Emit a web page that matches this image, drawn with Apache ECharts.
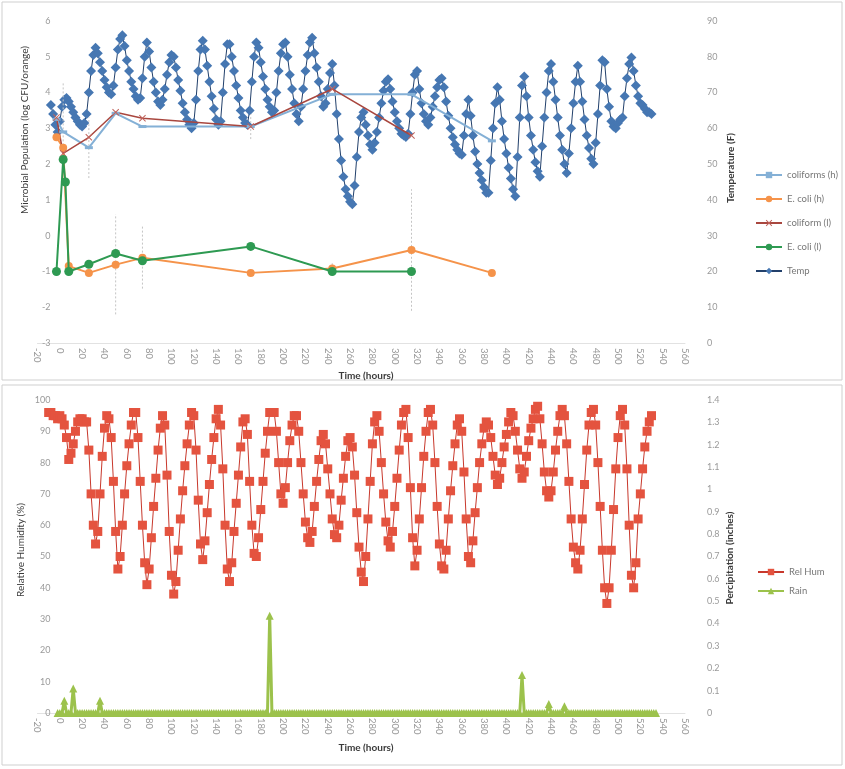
<!DOCTYPE html>
<html>
<head>
<meta charset="utf-8">
<script src="https://cdn.jsdelivr.net/npm/echarts@6/dist/echarts.min.js"></script>
<style>
  html, body { margin: 0; padding: 0; background: #ffffff; }
  #chart { width: 845px; height: 769px; }
</style>
</head>
<body>
<div id="chart"></div>
<script>
// ---- Microbial sampling (left axis, log CFU/orange) ----
const coliformsHHours  = [-3, 3, 26, 50, 74, 171, 244, 315, 387];
const coliformsHValues = [3.25, 2.9, 2.46, 3.42, 3.05, 3.05, 3.95, 3.95, 2.65];

const ecoliHHours  = [-3, 3, 8, 26, 50, 74, 171, 244, 315, 387];
const ecoliHValues = [2.75, 2.46, -0.85, -1.04, -0.81, -0.62, -1.04, -0.92, -0.4, -1.04];

const coliformLHours  = [-3, 3, 26, 50, 74, 171, 244, 315];
const coliformLValues = [3.3, 2.3, 2.75, 3.45, 3.28, 3.05, 4.1, 2.8];

const ecoliLHours  = [-3, 3, 5, 8, 26, 50, 74, 171, 244, 315];
const ecoliLValues = [-1, 2.13, 1.5, -1, -0.8, -0.5, -0.7, -0.3, -1, -1];

// error bars: sample time, centre, half-width
const errHours  = [3, 26, 50, 74, 171, 244, 315];
const errCenter = [3.3, 2.46, -0.8, -0.6, 3.05, -0.9, -0.4];
const errHalf   = [1.0, 0.85, 1.4, 0.88, 0.35, 0.15, 1.7];

// ---- Temperature (right axis, F), readings every 2 h from hour -8 ----
const tempStartHour = -8;
const tempStepHours = 2;
const tempValues = [
  66.5, 64, 61, 59, 62, 66, 68, 68.5, 67.5, 66, 64.5, 63,
  62, 61, 60.5, 61.5, 64, 70, 76, 80.5, 82.5, 81, 78.5, 76,
  73.5, 71.5, 70, 69.5, 72, 77, 82, 85, 86, 83, 79, 76,
  73, 71, 69, 68, 68.5, 74, 80, 84, 81.5, 77, 73, 70,
  67.5, 66.5, 68, 71, 75, 78.5, 80.5, 80, 77, 73.5, 70.5, 67,
  64.5, 62.5, 61, 60, 61.5, 68, 76, 82, 84.5, 82, 77.5, 73,
  69, 65.5, 62.5, 61, 62, 70, 78, 83.5, 83.5, 80, 76, 72,
  68.5, 65, 63, 61.5, 61, 65, 73, 80, 84, 82.5, 78.5, 74.5,
  71, 68, 66, 64.5, 65, 70, 76, 81, 83.5, 84, 80, 75,
  71, 67, 64, 62, 66, 71, 76, 80.5, 84, 85.3, 81, 77,
  73, 69, 66, 67, 71, 75.5, 78, 72, 64, 57, 51, 46.5,
  43, 41, 39.5, 38.8, 44, 52, 59, 63, 64.5, 61, 58, 55.5,
  54, 56, 59, 63, 67, 70.5, 73, 73.7, 71, 67.5, 64.5, 62,
  60, 58.5, 58, 57.6, 58.5, 64, 70, 75, 76, 71, 67, 64,
  62, 61, 63, 66, 69, 71.5, 73.5, 74, 71.5, 67.5, 63.5, 60,
  57.5, 55.5, 54, 53, 52.6, 58, 64, 68, 63.5, 58, 53.5, 50,
  47.5, 45.5, 43.5, 42, 42, 51, 60, 67, 71.5, 68, 62, 57,
  53, 49, 46, 43, 41, 52, 63, 72, 74.5, 69, 63, 58,
  54, 50.5, 48, 46.5, 55, 63, 70, 76, 78, 73, 68, 63,
  58, 54, 50, 47.5, 53, 60, 67, 73, 77.5, 73, 67.5, 62.5,
  58, 54.5, 51.5, 50, 56, 64, 72, 79, 78.5, 71, 66, 62,
  60.5, 60, 61.5, 62.5, 63, 69, 74, 78, 79.8, 76, 72, 69,
  67, 66.5, 65.5, 64.5, 64.5, 64
];

// ---- Relative humidity (%), readings every 2 h from hour -10 ----
const rhStartHour = -10;
const rhStepHours = 2;
const rhValues = [
  96, 96, 95, 95, 94, 95, 94, 92, 88, 81, 83, 86,
  90, 93, 94, 94, 93, 93, 84, 70, 60, 54, 58, 70,
  82, 91, 95, 94, 88, 74, 58, 46, 50, 60, 70, 79,
  86, 92, 96, 96, 88, 74, 60, 48, 41, 46, 56, 66,
  75, 84, 91, 95, 92, 76, 58, 44, 38, 42, 52, 62,
  71, 79, 86, 92, 96, 95, 84, 68, 54, 49, 55, 64,
  73, 81, 88, 94, 97, 92, 78, 60, 46, 42, 48, 58,
  67, 76, 85, 93, 94, 89, 74, 60, 51, 50, 56, 65,
  74, 83, 90, 96, 96, 96, 90, 80, 70, 67, 72, 80,
  87, 92, 95, 95, 90, 80, 70, 61, 56, 54.5, 58, 66,
  74, 81, 87, 89, 86, 78, 70, 62, 57, 56, 60, 68,
  75, 82, 87, 88, 85, 76, 64, 53, 45, 42, 50, 62,
  74, 86, 93, 95, 90, 80, 70, 61, 55, 53, 58, 66,
  75, 84, 92, 96, 97, 88, 72, 56, 47, 52, 62, 72,
  82, 90, 96, 97, 92, 80, 66, 54, 47, 46, 52, 62,
  71, 79, 86, 92, 94, 90, 77, 62, 50, 48, 55, 64,
  72, 80, 86, 91, 93, 92, 88, 82, 76, 73, 75, 80,
  85, 89, 93, 96, 95, 90, 84, 78, 75, 77, 82, 87,
  91, 94, 97, 98, 94, 86, 77, 71, 69, 71, 77, 84,
  90, 95, 97, 95, 86, 74, 62, 53, 48, 46, 52, 62,
  73, 84, 92, 96, 97, 92, 80, 66, 52, 40, 35, 40,
  52, 65, 78, 88, 95, 97, 92, 78, 60, 44, 40, 48,
  62, 70, 78, 85, 90, 93, 95
];

// ---- Rain (inches): 2-hourly gauge readings, dry except these events ----
const rainStartHour = -2;
const rainEndHour = 534;
const rainStepHours = 2;
const rainEventHours  = [4, 12, 36, 188, 414, 438, 452];
const rainEventValues = [0.055, 0.11, 0.055, 0.435, 0.17, 0.04, 0.03];

// ---- Axis ticks ----
const timeMin = -20, timeMax = 560, timeStep = 20;
const microMin = -3, microMax = 6, microStep = 1;
const tempMin = 0, tempMax = 90, tempStep = 10;
const rhMin = 0, rhMax = 100, rhStep = 10;
const rainMin = 0, rainMax = 1.4, rainStep = 0.1;

// ---- build series data ----
const pairs = (xs, ys) => xs.map((x, i) => [x, ys[i]]);
const tempData = tempValues.map((v, i) => [tempStartHour + i * tempStepHours, v]);
const rhData = rhValues.map((v, i) => [rhStartHour + i * rhStepHours, v]);
const rainData = [];
for (let h = rainStartHour; h <= rainEndHour; h += rainStepHours) {
  const k = rainEventHours.indexOf(h);
  rainData.push([h, k >= 0 ? rainEventValues[k] : 0]);
}
const errData = errHours.map((h, i) => [h, errCenter[i] - errHalf[i], errCenter[i] + errHalf[i]]);

const FONT = 'Lato, "Liberation Sans", sans-serif';
const LABEL_GREY = '#9a9a9a';
const X_SYMBOL = 'path://M0,1L1,0L5,4L9,0L10,1L6,5L10,9L9,10L5,6L1,10L0,9L4,5Z';

const GRID_LEFT = 37.5, GRID_WIDTH = 647.5;

function timeAxis(gridIndex) {
  return {
    type: 'value', gridIndex: gridIndex,
    min: timeMin, max: timeMax, interval: timeStep,
    splitLine: { show: false },
    axisTick: { show: false },
    axisLine: { show: true, onZero: false, lineStyle: { color: '#e2e2e2', width: 1 } },
    axisLabel: { rotate: -90, fontSize: 9.5, color: LABEL_GREY, margin: 5, fontFamily: FONT }
  };
}

function valueAxis(gridIndex, side, min, max, step) {
  const left = side === 'left';
  return {
    type: 'value', gridIndex: gridIndex, position: side,
    min: min, max: max, interval: step,
    splitLine: { show: false },
    axisTick: { show: false },
    axisLine: { show: false, onZero: false },
    axisLabel: left
      ? { inside: true, align: 'right', margin: 13, fontSize: 9, color: LABEL_GREY, fontFamily: FONT }
      : { margin: 22, fontSize: 9, color: LABEL_GREY, fontFamily: FONT }
  };
}

function axisTitle(text, x, y, rotated, bold) {
  return {
    type: 'text', x: x, y: y, rotation: rotated ? Math.PI / 2 : 0,
    style: {
      text: text, fill: '#3a3a3a', align: 'center', verticalAlign: 'middle',
      font: (bold ? 'bold ' : '') + '10px ' + FONT
    }
  };
}

const chart = echarts.init(document.getElementById('chart'), null, { renderer: 'canvas' });

chart.setOption({
  animation: false,
  backgroundColor: '#ffffff',
  textStyle: { fontFamily: FONT },
  grid: [
    { left: GRID_LEFT, top: 21, width: GRID_WIDTH, height: 322 },
    { left: GRID_LEFT, top: 400, width: GRID_WIDTH, height: 313 }
  ],
  xAxis: [timeAxis(0), timeAxis(1)],
  yAxis: [
    valueAxis(0, 'left', microMin, microMax, microStep),
    valueAxis(0, 'right', tempMin, tempMax, tempStep),
    valueAxis(1, 'left', rhMin, rhMax, rhStep),
    valueAxis(1, 'right', rainMin, rainMax, rainStep)
  ],
  legend: [
    {
      data: ['coliforms (h)', 'E. coli (h)', 'coliform (l)', 'E. coli (l)', 'Temp'],
      orient: 'vertical', left: 750, top: 165,
      itemWidth: 26, itemHeight: 8, itemGap: 14,
      textStyle: { fontSize: 9.5, color: '#777777', fontFamily: FONT }
    },
    {
      data: ['Rel Hum', 'Rain'],
      orient: 'vertical', left: 752, top: 562,
      itemWidth: 26, itemHeight: 8, itemGap: 9,
      textStyle: { fontSize: 9.5, color: '#777777', fontFamily: FONT }
    }
  ],
  series: [
    {
      name: 'Temp', type: 'line', xAxisIndex: 0, yAxisIndex: 1,
      data: tempData, symbol: 'diamond', symbolSize: 10,
      itemStyle: { color: '#4677b2' },
      lineStyle: { color: '#22406b', width: 1 },
      z: 2
    },
    {
      name: 'error', type: 'custom', xAxisIndex: 0, yAxisIndex: 0,
      data: errData, silent: true, z: 3,
      renderItem: function (params, api) {
        const p1 = api.coord([api.value(0), api.value(1)]);
        const p2 = api.coord([api.value(0), api.value(2)]);
        return {
          type: 'line',
          shape: { x1: p1[0], y1: p1[1], x2: p2[0], y2: p2[1] },
          style: { stroke: '#c4c4c4', lineWidth: 1, lineDash: [2, 2] }
        };
      }
    },
    {
      name: 'coliforms (h)', type: 'line', xAxisIndex: 0, yAxisIndex: 0,
      data: pairs(coliformsHHours, coliformsHValues),
      symbol: 'rect', symbolSize: [8, 3],
      itemStyle: { color: '#84b0d6' },
      lineStyle: { color: '#84b0d6', width: 2 },
      z: 4
    },
    {
      name: 'E. coli (h)', type: 'line', xAxisIndex: 0, yAxisIndex: 0,
      data: pairs(ecoliHHours, ecoliHValues),
      symbol: 'circle', symbolSize: 8,
      itemStyle: { color: '#f5934a' },
      lineStyle: { color: '#f5934a', width: 2 },
      z: 4
    },
    {
      name: 'coliform (l)', type: 'line', xAxisIndex: 0, yAxisIndex: 0,
      data: pairs(coliformLHours, coliformLValues),
      symbol: X_SYMBOL, symbolSize: 7,
      itemStyle: { color: '#c0625b' },
      lineStyle: { color: '#a9473f', width: 1.5 },
      z: 4
    },
    {
      name: 'E. coli (l)', type: 'line', xAxisIndex: 0, yAxisIndex: 0,
      data: pairs(ecoliLHours, ecoliLValues),
      symbol: 'circle', symbolSize: 9,
      itemStyle: { color: '#2e9a52' },
      lineStyle: { color: '#2e9a52', width: 2 },
      z: 5
    },
    {
      name: 'Rel Hum', type: 'line', xAxisIndex: 1, yAxisIndex: 2,
      data: rhData, symbol: 'rect', symbolSize: 9,
      itemStyle: { color: '#e4533f' },
      lineStyle: { color: '#c8382c', width: 1 },
      z: 2
    },
    {
      name: 'Rain', type: 'line', xAxisIndex: 1, yAxisIndex: 3,
      data: rainData, symbol: 'triangle', symbolSize: 8,
      itemStyle: { color: '#9cc24c' },
      lineStyle: { color: '#9cc24c', width: 3 },
      z: 3
    }
  ],
  graphic: [
    { type: 'rect', shape: { x: 2, y: 2, width: 840, height: 378 }, style: { fill: 'none', stroke: '#cfcfcf', lineWidth: 1 } },
    { type: 'rect', shape: { x: 2, y: 385, width: 840, height: 380 }, style: { fill: 'none', stroke: '#cfcfcf', lineWidth: 1 } },
    axisTitle('Microbial Population (log CFU/orange)', 25, 130, true, false),
    axisTitle('Temperature (F)', 731, 168, true, true),
    axisTitle('Time (hours)', 366, 376, false, true),
    axisTitle('Relative Humidity (%)', 21, 550, true, false),
    axisTitle('Percipitation (inches)', 730, 558, true, true),
    axisTitle('Time (hours)', 366, 748, false, true)
  ]
});
</script>
</body>
</html>
